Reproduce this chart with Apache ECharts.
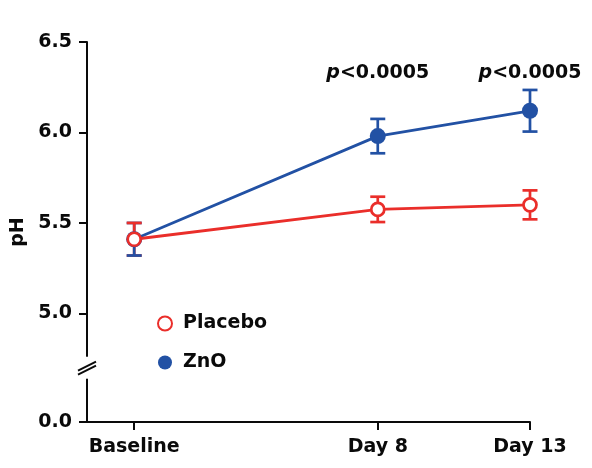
<!DOCTYPE html>
<html><head><meta charset="utf-8">
<script src="https://cdn.jsdelivr.net/npm/echarts@6/dist/echarts.min.js"></script>
<style>html,body{margin:0;padding:0;background:#fff}#c{width:592px;height:468px}</style>
</head><body><div id="c"></div>
<script>
// ---- data ----
const categories = ['Baseline', 'Day 8', 'Day 13'];
const days = [0, 8, 13];
const placeboMean = [5.41, 5.575, 5.60];
const placeboErr = [0.09, 0.07, 0.08];
const znoMean = [5.41, 5.98, 6.12];
const znoErr = [0.09, 0.095, 0.115];
const yTicks = [0, 5.0, 5.5, 6.0, 6.5];
const pLabels = ['', 'p<0.0005', 'p<0.0005'];

// ---- layout / style ----
const ZERO_POS = 4.4;   // where "0.0" sits on the broken axis
const BREAK_POS = 4.7;  // break mark position
const P_LABEL_POS = 6.33;
const X_MIN = -1.55, X_MAX = 13;
const RED = '#EA2E2A', BLUE = '#2251A4', INK = '#0a0a0a';
const FONT = 'DejaVu Sans';
const yPos = v => (v === 0 ? ZERO_POS : v);

function errSeries(name, color, mean, err, upperZ, lowerZ) {
  return {
    type: 'custom', name: name, z: 1, animation: false, silent: true,
    data: days.map((d, i) => [d, mean[i] - err[i], mean[i] + err[i], mean[i]]),
    encode: { x: 0, y: [1, 2] },
    renderItem: function (params, api) {
      const x = api.value(0);
      const lo = api.coord([x, api.value(1)]);
      const hi = api.coord([x, api.value(2)]);
      const mid = api.coord([x, api.value(3)]);
      const hw = 7.5;
      const style = { stroke: color, lineWidth: 2.7, fill: null };
      return { type: 'group', children: [
        { type: 'line', z2: upperZ, shape: { x1: hi[0], y1: hi[1], x2: mid[0], y2: mid[1] }, style: style },
        { type: 'line', z2: upperZ, shape: { x1: hi[0] - hw, y1: hi[1], x2: hi[0] + hw, y2: hi[1] }, style: style },
        { type: 'line', z2: lowerZ, shape: { x1: lo[0], y1: lo[1], x2: mid[0], y2: mid[1] }, style: style },
        { type: 'line', z2: lowerZ, shape: { x1: lo[0] - hw, y1: lo[1], x2: lo[0] + hw, y2: lo[1] }, style: style }
      ]};
    }
  };
}

const chart = echarts.init(document.getElementById('c'), null, { renderer: 'canvas' });
chart.setOption({
  animation: false,
  backgroundColor: '#fff',
  grid: { left: 87, right: 62, top: 42, bottom: 46, outerBoundsMode: 'none', containLabel: false },
  legend: {
    data: ['Placebo', 'ZnO'], orient: 'vertical', left: 152, top: 309,
    icon: 'circle', itemWidth: 14, itemHeight: 14, itemGap: 20,
    textStyle: { fontFamily: FONT, fontWeight: 'bold', fontSize: 19, color: INK, padding: [0, 0, 0, 6] },
    selectedMode: false
  },
  xAxis: {
    type: 'value', min: X_MIN, max: X_MAX,
    splitLine: { show: false },
    axisLine: { onZero: false, lineStyle: { color: INK, width: 2 } },
    axisTick: { customValues: days, length: 8, lineStyle: { color: INK, width: 2 } },
    axisLabel: {
      customValues: days, margin: 16,
      formatter: v => categories[days.indexOf(v)],
      fontFamily: FONT, fontWeight: 'bold', fontSize: 19, color: INK
    }
  },
  yAxis: {
    type: 'value', min: ZERO_POS, max: 6.5,
    name: 'pH', nameLocation: 'middle', nameGap: 58,
    nameTextStyle: { fontFamily: FONT, fontWeight: 'bold', fontSize: 19, color: INK },
    splitLine: { show: false },
    axisLine: { onZero: false, lineStyle: { color: INK, width: 2 } },
    axisTick: { customValues: yTicks.map(yPos), length: 8, lineStyle: { color: INK, width: 2 } },
    axisLabel: {
      customValues: yTicks.map(yPos), margin: 15,
      formatter: v => (Math.abs(v - ZERO_POS) < 1e-6 ? 0 : v).toFixed(1),
      fontFamily: FONT, fontWeight: 'bold', fontSize: 19, color: INK
    }
  },
  series: [
    errSeries('Placebo err', RED, placeboMean, placeboErr, 20, 10),
    errSeries('ZnO err', BLUE, znoMean, znoErr, 10, 20),
    {
      type: 'line', name: 'ZnO', z: 3, data: days.map((d, i) => [d, znoMean[i]]),
      symbol: 'circle', symbolSize: 16, showSymbol: true,
      lineStyle: { color: BLUE, width: 2.8 },
      itemStyle: { color: BLUE, borderWidth: 0 }
    },
    {
      type: 'line', name: 'Placebo', z: 4, data: days.map((d, i) => [d, placeboMean[i]]),
      symbol: 'circle', symbolSize: 13, showSymbol: true,
      lineStyle: { color: RED, width: 2.8 },
      itemStyle: { color: '#fff', borderColor: RED, borderWidth: 2.7 }
    },
    {
      type: 'scatter', name: 'p', z: 5, symbolSize: 0, silent: true,
      itemStyle: { opacity: 1 },
      data: days.map((d, i) => ({ value: [d, P_LABEL_POS], label: { show: pLabels[i] !== '' } })),
      label: {
        position: 'inside', opacity: 1,
        formatter: p => pLabels[p.dataIndex].replace(/^p/, '{i|p}'),
        fontFamily: FONT, fontWeight: 'bold', fontSize: 19, color: INK,
        rich: { i: { fontFamily: FONT, fontWeight: 'bold', fontStyle: 'italic', fontSize: 19, color: INK } }
      }
    }
  ]
});

const [ax, by] = chart.convertToPixel({ gridIndex: 0 }, [X_MIN, BREAK_POS]);
chart.setOption({
  graphic: [
    { type: 'rect', z: 100, shape: { x: ax - 4, y: by - 11, width: 8, height: 22 }, style: { fill: '#fff' } },
    { type: 'line', z: 101, shape: { x1: ax - 9, y1: by + 3, x2: ax + 9, y2: by - 6 }, style: { stroke: INK, lineWidth: 2 } },
    { type: 'line', z: 101, shape: { x1: ax - 9, y1: by + 7, x2: ax + 9, y2: by - 2 }, style: { stroke: INK, lineWidth: 2 } }
  ]
});
</script>
</body></html>
